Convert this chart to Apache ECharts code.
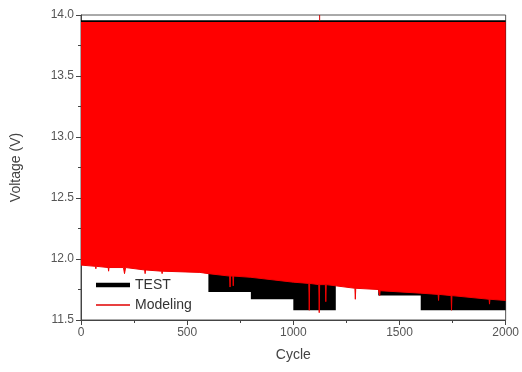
<!DOCTYPE html>
<html><head><meta charset="utf-8">
<script src="https://cdn.jsdelivr.net/npm/echarts@6/dist/echarts.min.js"></script>
<style>html,body{margin:0;padding:0;background:#fff}#c{width:522px;height:372px}</style>
</head><body><div id="c"></div>
<script>
// Upper level of both cycling signals
var topVoltage = 13.95;
// TEST lower envelope (step levels starting at each cycle)
var testCycle = [0, 600, 800, 1000, 1200, 1400, 1600, 2000];
var testLow   = [11.97, 11.73, 11.67, 11.58, 11.81, 11.70, 11.58, 11.58];
// Modeling lower envelope, including downward spikes
var modelCycle = [0, 68, 70, 72, 128, 130, 132, 200, 205, 210, 300, 302, 304, 380, 382, 384, 560, 600, 700, 702, 704, 715, 717, 719, 800, 1000, 1073, 1075, 1077, 1120, 1122, 1124, 1151, 1153, 1155, 1200, 1290, 1292, 1294, 1400, 1405, 1407, 1409, 1600, 1682, 1684, 1686, 1743, 1745, 1747, 1922, 1924, 1926, 2000];
var modelLow   = [11.95, 11.94, 11.92, 11.94, 11.93, 11.90, 11.93, 11.93, 11.88, 11.93, 11.91, 11.88, 11.91, 11.90, 11.88, 11.90, 11.89, 11.88, 11.86, 11.77, 11.86, 11.86, 11.78, 11.86, 11.85, 11.81, 11.80, 11.58, 11.80, 11.79, 11.56, 11.79, 11.79, 11.65, 11.79, 11.78, 11.76, 11.67, 11.76, 11.75, 11.74, 11.70, 11.74, 11.72, 11.71, 11.66, 11.71, 11.70, 11.58, 11.70, 11.67, 11.63, 11.67, 11.66];
// A single upward overshoot of the model
var spikeCycle = [1124, 1124];
var spikeVolt  = [13.95, 14.0];

function zip(a, b) { return a.map(function (v, i) { return [v, b[i]]; }); }

var chart = echarts.init(document.getElementById('c'));
chart.setOption({
  animation: false,
  backgroundColor: '#fff',
  grid: { left: 81, right: 13, top: 15, bottom: 52, show: true, borderColor: '#555', borderWidth: 1 },
  legend: {
    left: 91, top: 273, orient: 'vertical', itemGap: 6, itemWidth: 34, itemHeight: 10,
    textStyle: { fontSize: 14, color: '#333', fontFamily: 'Liberation Sans' },
    data: [
      { name: 'TEST', icon: 'path://M0,0H34V4.5H0Z', itemStyle: { color: '#000' } },
      { name: 'Modeling', icon: 'path://M0,0H34V1.6H0Z', itemStyle: { color: '#e00000' } }
    ]
  },
  xAxis: {
    type: 'value', min: 0, max: 2000, interval: 500,
    name: 'Cycle', nameLocation: 'middle', nameGap: 28,
    nameTextStyle: { fontSize: 14, color: '#444', fontFamily: 'Liberation Sans' },
    axisLine: { lineStyle: { color: '#444' } },
    axisTick: { inside: false, length: 5, lineStyle: { color: '#444' } },
    minorTick: { show: true, splitNumber: 2, length: 3, lineStyle: { color: '#444' } },
    axisLabel: { fontSize: 12, color: '#555', fontFamily: 'Liberation Sans', margin: 7,
      formatter: function (v) { return String(v); } },
    splitLine: { show: false }
  },
  yAxis: {
    type: 'value', min: 11.5, max: 14.0, interval: 0.5,
    name: 'Voltage (V)', nameLocation: 'middle', nameGap: 58, nameRotate: 90,
    nameTextStyle: { fontSize: 14, color: '#444', fontFamily: 'Liberation Sans' },
    axisLine: { show: true, lineStyle: { color: '#444' } },
    axisTick: { show: true, inside: false, length: 5, lineStyle: { color: '#444' } },
    minorTick: { show: true, splitNumber: 2, length: 3, lineStyle: { color: '#444' } },
    axisLabel: { fontSize: 12, color: '#555', fontFamily: 'Liberation Sans', margin: 7,
      formatter: function (v) { return v.toFixed(1); } },
    splitLine: { show: false }
  },
  series: [
    {
      name: 'TEST', type: 'line', step: 'end', symbol: 'none', showSymbol: false, z: 2,
      data: zip(testCycle, testLow),
      lineStyle: { width: 0, color: '#000' }, itemStyle: { color: '#000' },
      areaStyle: { color: '#000', opacity: 1, origin: topVoltage + 0.006 }
    },
    {
      name: 'Modeling', type: 'line', symbol: 'none', showSymbol: false, z: 3,
      data: zip(modelCycle, modelLow),
      lineStyle: { width: 1, color: '#f00000' }, itemStyle: { color: '#e00000' },
      areaStyle: { color: '#ff0000', opacity: 1, origin: topVoltage - 0.008 }
    },
    {
      name: 'Modeling', type: 'line', symbol: 'none', showSymbol: false, z: 3,
      data: zip(spikeCycle, spikeVolt),
      lineStyle: { width: 1, color: '#d00000' }
    }
  ]
});
</script></body></html>
